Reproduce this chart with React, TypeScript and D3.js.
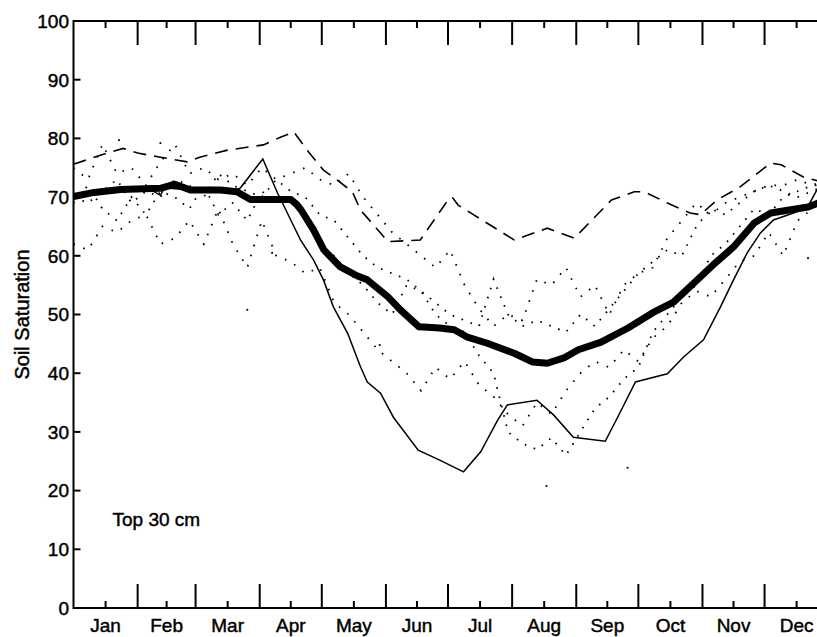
import React from 'react';
import * as d3 from 'd3';

const monthNames = ['Jan', 'Feb', 'Mar', 'Apr', 'May', 'Jun', 'Jul', 'Aug', 'Sep', 'Oct', 'Nov', 'Dec'];
const monthStarts = [0, 31, 59, 90, 120, 151, 181, 212, 243, 273, 304, 334, 365];
const yTicks = [0, 10, 20, 30, 40, 50, 60, 70, 80, 90, 100];

// [day of year, soil saturation]
const meanCurve: [number, number][] = [
  [0, 70.1], [10, 70.8], [22.7, 71.3], [42, 71.5], [49, 72.2], [56.5, 71.2], [71, 71.2], [79, 70.9],
  [85.5, 69.6], [105, 69.6], [108, 68.7], [110, 67.8], [116, 64.4], [121, 61], [129, 58.1], [137, 56.6],
  [142, 55.9], [152, 53], [158, 50.8], [167, 47.9], [177, 47.7], [184, 47.4], [190, 46.2], [200, 45.1],
  [213, 43.4], [222, 41.9], [229, 41.7], [237, 42.6], [244, 44], [255, 45.3], [268, 47.7], [280, 50.3],
  [290, 52.1], [300, 55.4], [309, 58.4], [319, 61.5], [329, 65.6], [337, 67.3], [346, 67.8], [355, 68.3],
  [360, 69], [365, 69.6],
];

const minCurve: [number, number][] = [
  [0, 70.1], [22, 71.3], [37, 71.3], [42, 70.3], [44, 71.6], [56, 71.2], [79, 71.3], [80.5, 71.5],
  [91.5, 76.5], [98.6, 70.7], [101, 69], [105, 66.1], [109.7, 62.7], [116, 59.3], [120.8, 55.9],
  [125.6, 51.3], [132.5, 46.8], [138.7, 41.1], [142, 38.5], [148.4, 36.6], [154.6, 32.5], [166.6, 26.9],
  [177, 25.2], [188.5, 23.2], [196.8, 26.6], [205, 32], [209.7, 34.6], [224, 35.4], [232, 32.9],
  [241.6, 29.1], [257, 28.4], [263, 32.5], [271.6, 38.5], [287, 39.9], [295, 42.8], [304.5, 45.7],
  [312.7, 51.3], [319, 55.9], [325.6, 60.5], [332, 63.9], [338.3, 66.1], [348, 67.3], [354.8, 68.3],
  [360, 71.7], [365, 74],
];

const maxCurve: [number, number][] = [
  [0, 75.6], [14.5, 77.3], [24, 78.3], [31, 77.5], [42, 76.8], [55, 76], [61, 76.8], [74.4, 78],
  [91.8, 78.9], [100, 80.2], [106.5, 81.1], [114, 77.5], [120.8, 74.6], [127.5, 72.9], [134.8, 70.9],
  [138.7, 67.8], [148.4, 63.9], [151.8, 62.4], [167.6, 62.7], [181, 69.5], [183, 70], [186, 68.6],
  [213, 62.7], [229, 64.7], [242, 63], [252, 66.6], [260, 69.5], [271, 70.9], [276, 70.9], [287, 69],
  [298, 67.3], [303, 67], [311, 69.5], [322, 71.7], [337, 75.8], [342, 75.5], [353, 73.4], [365, 72.3],
];

// weekly values of individual years (dotted)
const weekDays = d3.range(0, 365, 7);
const yearA = [75, 73, 79, 74, 75, 72, 76, 79, 74, 75, 73, 74, 72, 75, 73, 74, 75, 73, 72, 74, 70, 67, 64, 62, 60, 58, 61, 55, 51, 48, 50, 49, 56, 55, 58, 53, 55, 50, 55, 57, 58, 63, 66, 69, 67, 69, 70, 71, 72, 72, 73, 72, 73];
const yearB = [69, 72, 68, 66, 70, 67, 71, 70, 68, 72, 67, 69, 66, 71, 69, 70, 66, 62, 60, 57, 55, 52, 50, 55, 54, 52, 50, 49, 48, 56, 50, 48, 49, 48, 47, 50, 48, 51, 54, 57, 59, 61, 60, 65, 68, 67, 69, 71, 72, 71, 70, 71, 72];
const yearC = [62, 61, 65, 64, 66, 67, 62, 63, 66, 62, 68, 62, 58, 66, 60, 59, 57, 58, 52, 50, 47, 44, 42, 40, 37, 41, 39, 42, 38, 36, 33, 31, 35, 33, 37, 40, 42, 41, 44, 42, 46, 48, 52, 54, 53, 56, 59, 60, 64, 60, 66, 68, 70];
const yearD = [70, 69, 71, 73, 69, 71, 70, 73, 72, 70, 74, 72, 71, 70, 73, 71, 70, 67, 66, 63, 60, 58, 57, 56, 54, 50, 48, 47, 43, 40, 30, 28, 27, 29, 26, 30, 34, 36, 39, 41, 47, 50, 53, 55, 60, 62, 65, 68, 67, 70, 71, 72, 72];
const strayDays = [22, 42, 84, 228.6, 267.8, 355, 96, 148];
const strayVals = [79.7, 79.2, 50.8, 20.8, 23.9, 59.6, 60.5, 44.8];

const W = 817;
const H = 637;
const left = 73.5;
const right = 828.7;
const top = 21;
const bottom = 608;
const font = 'Liberation Sans, Arial, Helvetica, sans-serif';

export default function App() {
  const x = d3.scaleLinear().domain([0, 365]).range([left, right]);
  const y = d3.scaleLinear().domain([0, 100]).range([bottom, top]);
  const line = d3.line<[number, number]>().x((d) => x(d[0])).y((d) => y(d[1]));
  const years = [yearA, yearB, yearC, yearD].map((vals) =>
    vals.map((v, i) => [weekDays[i], v] as [number, number])
  );
  const mids = monthStarts.slice(0, 12).map((s, i) => (s + monthStarts[i + 1]) / 2);
  const majors = monthStarts.slice(1, 12);

  return (
    <div style={{ position: 'absolute', left: 0, top: 0 }}>
      <svg width={W} height={H} style={{ display: 'block', background: '#fff' }}>
        <defs>
          <clipPath id="plot">
            <rect x={left} y={top} width={right - left} height={bottom - top} />
          </clipPath>
        </defs>
        <g clipPath="url(#plot)" fill="none" stroke="#000">
          {years.map((pts, i) => (
            <path key={i} d={line(pts) || ''} strokeWidth={1.8} strokeDasharray={i % 2 ? '1.6 8' : '1.6 9'} />
          ))}
          {strayDays.map((d, i) => (
            <rect key={'s' + i} x={x(d) - 0.9} y={y(strayVals[i]) - 0.9} width={1.8} height={1.8} fill="#000" stroke="none" />
          ))}
          <path d={line(maxCurve) || ''} strokeWidth={1.6} strokeDasharray="13 8" />
          <path d={line(minCurve) || ''} strokeWidth={1.5} />
          <path d={line(meanCurve) || ''} strokeWidth={7} strokeLinejoin="round" />
        </g>
        {/* axes box */}
        <g stroke="#000" strokeWidth={2} fill="none">
          <line x1={left} y1={top - 1} x2={left} y2={bottom + 1} />
          <line x1={left} y1={top} x2={right} y2={top} />
          <line x1={left} y1={bottom} x2={right} y2={bottom} />
          <line x1={right} y1={top} x2={right} y2={bottom} />
          {majors.map((m) => (
            <g key={'M' + m}>
              <line x1={x(m)} y1={top} x2={x(m)} y2={top + 24} />
              <line x1={x(m)} y1={bottom} x2={x(m)} y2={bottom - 24} />
            </g>
          ))}
          {mids.map((m) => (
            <g key={'m' + m}>
              <line x1={x(m)} y1={top} x2={x(m)} y2={top + 7} />
              <line x1={x(m)} y1={bottom} x2={x(m)} y2={bottom - 7} />
            </g>
          ))}
          {yTicks.slice(1, 10).map((t) => (
            <line key={'y' + t} x1={left} y1={y(t)} x2={left + 7} y2={y(t)} />
          ))}
        </g>
        <g fontFamily={font} fontSize={19} fill="#000" stroke="#000" strokeWidth={0.45}>
          {yTicks.map((t) => (
            <text key={'yl' + t} x={69} y={y(t)} dy="0.36em" textAnchor="end">
              {t}
            </text>
          ))}
          {monthNames.map((n, i) => (
            <text key={n} x={x(mids[i])} y={632} textAnchor="middle">
              {n}
            </text>
          ))}
          <text x={112.5} y={526}>Top 30 cm</text>
          <text transform="translate(29,314.5) rotate(-90)" textAnchor="middle" fontSize={20}>
            Soil Saturation
          </text>
        </g>
      </svg>
    </div>
  );
}
